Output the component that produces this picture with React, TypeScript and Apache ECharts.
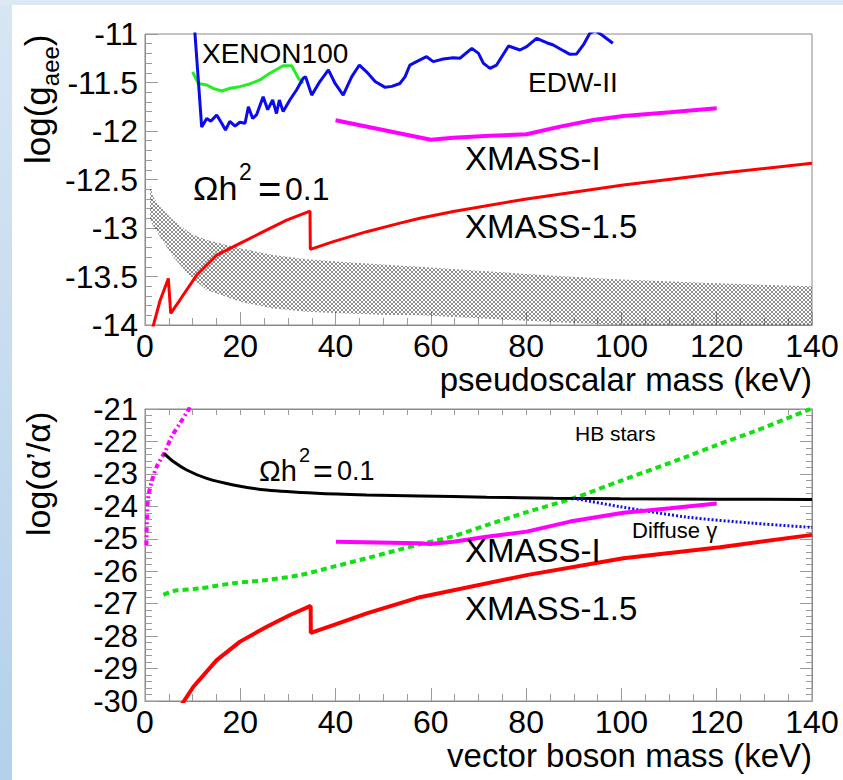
import React, { useEffect, useRef } from 'react';
import * as echarts from 'echarts';

const FONT = '"Liberation Sans", Arial, Helvetica, sans-serif';

// ---------- top panel (pseudoscalar) ----------
const massTicks = { min: 0, max: 140, interval: 20 };
const gaeeAxis = { min: -14, max: -11, interval: 0.5 };

const edw2Top: number[][] = [
  [10.2, -10.8], [11.9, -11.96], [12.95, -11.87], [13.8, -11.9], [15.05, -11.835], [16.1, -11.92],
  [16.9, -11.99], [17.8, -11.9], [18.9, -11.95], [19.9, -11.91], [21.0, -11.92], [21.7, -11.75],
  [22.6, -11.87], [23.4, -11.835], [24.8, -11.646], [25.75, -11.78], [26.8, -11.68], [27.6, -11.82],
  [28.2, -11.68], [29.0, -11.8], [30.4, -11.68], [31.8, -11.577], [33.2, -11.457], [33.7, -11.44],
  [35.0, -11.63], [36.7, -11.49], [38.5, -11.37], [39.9, -11.51], [41.6, -11.63], [43.4, -11.44],
  [45.0, -11.32], [46.5, -11.39], [48.3, -11.49], [50.4, -11.55], [51.8, -11.54], [53.5, -11.51],
  [54.6, -11.44], [55.6, -11.32], [57.0, -11.285], [59.1, -11.234], [60.5, -11.285], [62.6, -11.258],
  [64.7, -11.244], [66.1, -11.25], [68.6, -11.148], [70.0, -11.2], [71.0, -11.3], [72.4, -11.354],
  [73.8, -11.32], [76.3, -11.124], [78.7, -11.165], [80.1, -11.13], [82.2, -11.045], [84.3, -11.09],
  [85.7, -11.113], [87.8, -11.172], [89.2, -11.21], [90.6, -11.206], [92.0, -11.113], [93.4, -10.99],
  [94.5, -10.966], [95.9, -11.01], [98.2, -11.096],
];

const xenon100Top: number[][] = [
  [10.0, -11.39], [11.2, -11.51], [12.95, -11.526], [14.3, -11.56], [16.1, -11.588], [17.8, -11.56],
  [19.9, -11.543], [22.0, -11.515], [24.1, -11.474], [26.2, -11.405], [29.0, -11.327], [30.8, -11.327],
  [32.2, -11.457], [33.2, -11.51],
];

const xmass1Top: number[][] = [
  [40, -11.89], [60, -12.09], [64.7, -12.07], [72.4, -12.048], [80.1, -12.034], [87.1, -11.955],
  [94.1, -11.887], [100.4, -11.845], [110.2, -11.807], [120, -11.766],
];

const xmass15Top: number[][] = [
  [1.5, -14.05], [3.15, -13.75], [4.9, -13.52], [5.4, -13.88], [7.35, -13.74], [10.85, -13.485],
  [15.05, -13.28], [19.94, -13.158], [24.84, -13.038], [29.73, -12.918], [34.63, -12.825],
  [34.7, -13.22], [39.53, -13.14], [46.53, -13.038], [53.52, -12.95], [57.7, -12.9], [64.7, -12.83],
  [80.1, -12.7], [100.4, -12.557], [120.7, -12.436], [140, -12.333],
];

// relic band (hatched)
const bandMass = [1.05, 1.75, 3.15, 5.95, 9.45, 12.95, 19.94, 26.9, 33.9, 40.9, 51.4, 57.7, 70, 85, 100, 120, 140];
const bandUpper = [-12.56, -12.68, -12.78, -12.92, -13.055, -13.124, -13.21, -13.278, -13.323, -13.347, -13.381, -13.4, -13.44, -13.49, -13.53, -13.57, -13.6];
const bandLower = [-12.92, -12.98, -13.09, -13.3, -13.5, -13.64, -13.76, -13.83, -13.863, -13.88, -13.897, -13.9, -13.93, -13.97, -14.0, -14.0, -14.0];

// ---------- bottom panel (vector boson) ----------
const alphaAxis = { min: -30, max: -21, interval: 1 };

const relicBottom: number[][] = [
  [3.99, -22.37], [5.94, -22.62], [8.75, -22.88], [12.95, -23.14], [18.54, -23.34], [25.54, -23.5],
  [36.03, -23.6], [46.53, -23.65], [57.7, -23.68], [71.7, -23.72], [85.7, -23.75], [99.7, -23.77],
  [120.7, -23.78], [140, -23.79],
];

const magentaDotted: number[][] = [
  [0.3, -25.2], [0.4, -24.4], [0.7, -23.7], [1.4, -23.24], [2.45, -22.78], [4.2, -22.32],
  [5.6, -21.85], [7.35, -21.44], [9.1, -21.03], [9.6, -20.9],
];

const hbStars: number[][] = [
  [3.85, -26.73], [5.95, -26.61], [11.55, -26.53], [18.54, -26.37], [25.54, -26.27], [32.54, -26.12],
  [39.53, -25.86], [46.53, -25.6], [57.7, -25.17], [64.7, -24.92], [71.7, -24.58], [80.1, -24.18],
  [89.9, -23.75], [99.7, -23.22], [113.7, -22.47], [120, -22.11], [127.7, -21.7], [139.2, -21.03], [140.5, -20.97],
];

const diffuseGamma: number[][] = [
  [89.9, -23.75], [99.7, -24.01], [113.7, -24.33], [127.7, -24.52], [140, -24.65],
];

const xmass1Bottom: number[][] = [
  [40.09, -25.09], [57.7, -25.14], [59.8, -25.16], [64.7, -25.09], [71.7, -24.94], [80.1, -24.78],
  [89.2, -24.47], [100.4, -24.2], [110.2, -24.06], [120, -23.91],
];

const xmass15Bottom: number[][] = [
  [7.3, -30.2], [10.15, -29.56], [15.05, -28.74], [19.94, -28.17], [25.54, -27.71], [30.44, -27.35],
  [34.77, -27.07], [34.8, -27.9], [39.53, -27.66], [46.53, -27.3], [57.7, -26.8], [80.1, -26.12],
  [100.4, -25.6], [120.7, -25.26], [140, -24.88],
];

// ---------- helpers ----------
const frameColor = '#8a8a8a';
const tickColor = '#9a9a9a';

function makeHatch(): string {
  const c = document.createElement('canvas');
  c.width = 4;
  c.height = 4;
  const ctx = c.getContext('2d')!;
  ctx.fillStyle = 'rgba(30,30,30,0.5)';
  for (let x = 0; x < 4; x++) {
    for (let y = 0; y < 4; y++) {
      if ((x - y + 4) % 4 === 0 || (x + y) % 4 === 3) ctx.fillRect(x, y, 1, 1);
    }
  }
  return c.toDataURL();
}

function txt(text: string, x: number, baseline: number, size: number, align = 'left') {
  return {
    type: 'text',
    x,
    y: baseline - 0.3465 * size,
    silent: true,
    z: 20,
    style: {
      text,
      fill: '#000',
      fontSize: size,
      fontFamily: FONT,
      align,
      textAlign: align,
      verticalAlign: 'middle',
      textVerticalAlign: 'middle',
    },
  };
}

function xAxisCfg(gridIndex: number, position: string, showLabel: boolean, major: number, minor: number) {
  return {
    type: 'value',
    gridIndex,
    position,
    min: massTicks.min,
    max: massTicks.max,
    interval: massTicks.interval,
    axisLine: { show: true, onZero: false, lineStyle: { color: frameColor, width: 1 } },
    axisTick: { show: true, inside: true, length: major, lineStyle: { color: tickColor, width: 1 } },
    minorTick: { show: true, splitNumber: 4, length: minor, lineStyle: { color: tickColor, width: 1 } },
    axisLabel: { show: showLabel, fontSize: 32, fontFamily: FONT, color: '#000', margin: 5 },
    splitLine: { show: false },
    minorSplitLine: { show: false },
  };
}

function yAxisCfg(gridIndex: number, position: string, showLabel: boolean, range: any, major: number, minor: number, fontSize: number) {
  return {
    type: 'value',
    gridIndex,
    position,
    min: range.min,
    max: range.max,
    interval: range.interval,
    axisLine: { show: true, onZero: false, lineStyle: { color: frameColor, width: 1 } },
    axisTick: { show: true, inside: true, length: major, lineStyle: { color: tickColor, width: 1 } },
    minorTick: { show: true, splitNumber: 5, length: minor, lineStyle: { color: tickColor, width: 1 } },
    axisLabel: { show: showLabel, fontSize, fontFamily: FONT, color: '#000', margin: 7, lineHeight: fontSize },
    splitLine: { show: false },
    minorSplitLine: { show: false },
  };
}

function line(data: number[][], color: string, width: number, panel: number, type: any = 'solid', smooth: any = false) {
  return {
    type: 'line',
    data,
    xAxisIndex: panel,
    yAxisIndex: panel,
    symbol: 'none',
    showSymbol: false,
    smooth,
    clip: true,
    silent: true,
    z: 3,
    lineStyle: { color, width, type, cap: 'butt' },
  };
}

export default function App() {
  const ref = useRef<HTMLDivElement>(null);

  useEffect(() => {
    const chart = echarts.init(ref.current!, null, { renderer: 'svg', width: 843, height: 780 });
    const hatch = { image: makeHatch(), repeat: 'repeat', imageWidth: 4, imageHeight: 4 };

    const gridBase = {
      left: 145,
      width: 667,
      show: true,
      borderColor: frameColor,
      borderWidth: 1,
      backgroundColor: 'transparent',
      containLabel: false,
      outerBoundsMode: 'none',
    };

    const option: any = {
      animation: false,
      backgroundColor: 'transparent',
      grid: [
        { ...gridBase, top: 34, height: 291 },
        { ...gridBase, top: 409, height: 292 },
      ],
      xAxis: [
        xAxisCfg(0, 'bottom', true, 13, 7),
        xAxisCfg(1, 'bottom', true, 13, 7),
        xAxisCfg(1, 'top', false, 6, 6),
      ],
      yAxis: [
        yAxisCfg(0, 'left', true, gaeeAxis, 13, 7, 32),
        yAxisCfg(1, 'left', true, alphaAxis, 13, 7, 31),
        yAxisCfg(1, 'right', false, alphaAxis, 12, 6, 31),
      ],
      series: [
        {
          type: 'custom',
          xAxisIndex: 0,
          yAxisIndex: 0,
          silent: true,
          clip: true,
          z: 1,
          data: [[bandMass[0], bandUpper[0]]],
          renderItem: (_p: any, api: any) => {
            const pts: number[][] = [];
            for (let i = 0; i < bandMass.length; i++) pts.push(api.coord([bandMass[i], bandUpper[i]]));
            for (let i = bandMass.length - 1; i >= 0; i--) pts.push(api.coord([bandMass[i], bandLower[i]]));
            return { type: 'polygon', shape: { points: pts }, style: { fill: hatch, stroke: 'none', lineWidth: 0 } };
          },
        },
        line(xenon100Top, '#22ee22', 3, 0),
        line(edw2Top, '#0a0aee', 3, 0),
        line(xmass1Top, '#ff00ff', 4, 0),
        line(xmass15Top, '#ff0000', 3, 0),

        line(magentaDotted, '#ff00ff', 4, 1, [5, 3, 2, 3], 0.3),
        line(hbStars, '#11e011', 4, 1, [6, 4], 0.3),
        line(relicBottom, '#000000', 3, 1, 'solid', 0.3),
        line(diffuseGamma, '#1010ee', 3, 1, [2, 2], 0.3),
        line(xmass1Bottom, '#ff00ff', 4, 1),
        line(xmass15Bottom, '#ff0000', 4, 1),
      ],
      graphic: [
        // top panel labels
        txt('XENON100', 202, 63.3, 28),
        txt('EDW-II', 528, 92.7, 28),
        txt('XMASS-I', 465, 170, 33),
        txt('XMASS-1.5', 465, 238.3, 33),
        txt('Ωh', 193, 200, 34),
        txt('2', 239, 180, 23),
        txt('=', 258, 203, 40),
        txt('0.1', 285, 200, 32),
        txt('pseudoscalar mass (keV)', 812, 391, 33, 'right'),
        {
          type: 'group',
          x: 50,
          y: 164,
          rotation: Math.PI / 2,
          children: [
            txt('log(g', 0, 0, 35),
            txt('aee', 77.8, 9, 24),
            txt(')', 117.8, 0, 35),
          ],
        },
        // bottom panel labels
        txt('HB stars', 575, 440.7, 21),
        txt('Ωh', 259, 480.7, 29),
        txt('2', 299, 461.7, 20),
        txt('=', 313, 483, 34),
        txt('0.1', 337, 480.7, 27),
        txt('XMASS-I', 465, 561.7, 33),
        txt('Diffuse γ', 632, 538.3, 22),
        txt('XMASS-1.5', 465, 620, 33),
        txt('vector boson mass (keV)', 812, 767, 33, 'right'),
        {
          type: 'group',
          x: 50,
          y: 536,
          rotation: Math.PI / 2,
          children: [txt('log(α’/α)', 0, 0, 34)],
        },
      ],
    };

    chart.setOption(option);
    return () => chart.dispose();
  }, []);

  return (
    <div
      ref={ref}
      style={{
        position: 'fixed',
        left: 0,
        top: 0,
        width: 843,
        height: 780,
        background:
          'linear-gradient(#dce8f4, #dce8f4) 0 0 / 843px 5px no-repeat, linear-gradient(to bottom, #d8e6f3, #b3d1eb) 0 0 / 12px 780px no-repeat, #ffffff',
      }}
    />
  );
}
